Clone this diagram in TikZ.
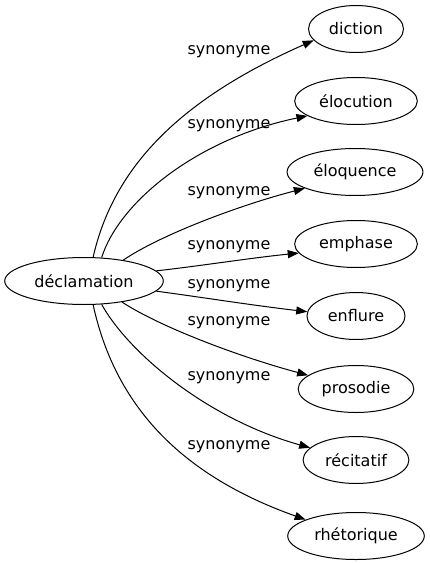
\documentclass[tikz,border=0pt]{standalone}
\usepackage{fontspec}
\setmainfont{DejaVu Sans}
\usetikzlibrary{shapes.geometric,arrows.meta}

\tikzset{every picture/.style={line width=0.75pt}}
\tikzset{
	word/.style={draw, ellipse, inner xsep=4.9pt, minimum height=35.25pt, font=\fontsize{12}{14}\selectfont},
	rel/.style={inner sep=0pt, font=\fontsize{12}{14}\selectfont},
	syn/.style={-{Triangle[length=8.25pt,width=6pt]}}
}

\begin{document}
\begin{tikzpicture}[x=0.75pt,y=0.75pt,yscale=-1,xscale=1]
	\useasboundingbox (0,0) rectangle (429,563);

	% Text Node
	\node[word] (decl) at (84,281) {déclamation};
	% Text Node
	\node[word] (diction) at (356,29) {diction};
	% Text Node
	\node[word] (elocution) at (356,101) {élocution};
	% Text Node
	\node[word] (eloquence) at (355,172) {éloquence};
	% Text Node
	\node[word] (emphase) at (356,244) {emphase};
	% Text Node
	\node[word] (enflure) at (356,316) {enflure};
	% Text Node
	\node[word] (prosodie) at (356,389) {prosodie};
	% Text Node
	\node[word] (recitatif) at (356,460) {récitatif};
	% Text Node
	\node[word] (rhetorique) at (356,536) {rhétorique};

	%Curve Lines
	\draw[syn] (decl.69) .. controls (115,160) and (190,95) .. (diction.195);
	\draw[syn] (decl.53) .. controls (120,200) and (200,138) .. (elocution.197);
	\draw[syn] (decl.28) .. controls (160,235) and (240,205) .. (eloquence.198);
	\draw[syn] (decl.8) .. controls (200,266) and (250,258) .. (emphase.189);
	\draw[syn] (decl.-8) .. controls (200,297) and (250,305) .. (enflure.175);
	\draw[syn] (decl.-29) .. controls (160,327) and (240,357) .. (prosodie.164);
	\draw[syn] (decl.-53) .. controls (130,355) and (210,420) .. (recitatif.165);
	\draw[syn] (decl.-69) .. controls (115,405) and (180,475) .. (rhetorique.162);

	% Text Node
	\node[rel] (s1) at (229,52) {synonyme};
	% Text Node
	\node[rel] (s2) at (229,126) {synonyme};
	% Text Node
	\node[rel] (s3) at (229,193) {synonyme};
	% Text Node
	\node[rel] (s4) at (229,247) {synonyme};
	% Text Node
	\node[rel] (s5) at (229,286) {synonyme};
	% Text Node
	\node[rel] (s6) at (229,323) {synonyme};
	% Text Node
	\node[rel] (s7) at (229,378) {synonyme};
	% Text Node
	\node[rel] (s8) at (229,447) {synonyme};

\end{tikzpicture}
\end{document}
